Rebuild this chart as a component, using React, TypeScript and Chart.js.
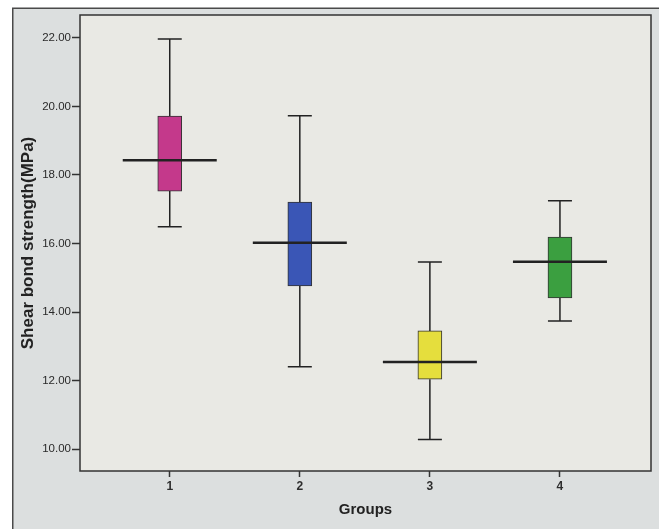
import React, { useEffect, useRef } from "react";
import { Chart, registerables } from "chart.js";

Chart.register(...registerables);

// ---- data ----
const groupLabels = ["1", "2", "3", "4"];
const groupPositions = [1, 2, 3, 4];
const whiskerHigh = [21.97, 19.73, 15.46, 17.25];
const q3 = [19.72, 17.21, 13.45, 16.19];
const median = [18.43, 16.02, 12.54, 15.47];
const q1 = [17.53, 14.76, 12.04, 14.41];
const whiskerLow = [16.49, 12.4, 10.28, 13.74];
const yTickValues = [10, 12, 14, 16, 18, 20, 22];
const boxColors = ["#c4398b", "#3a56b6", "#e5de3d", "#3b9f40"];

const FONT = "'Liberation Sans', Arial, sans-serif";
const INK = "#2e2e2e";

const framePlugin = {
  id: "frame",
  beforeDraw(chart: any) {
    const { ctx, width, height, chartArea } = chart;
    ctx.save();
    ctx.fillStyle = "#ffffff";
    ctx.fillRect(0, 0, width, height);
    ctx.fillStyle = "#dcdfdf";
    ctx.fillRect(13, 8, width - 13, height - 8);
    ctx.strokeStyle = "#4a4a4a";
    ctx.lineWidth = 1.5;
    ctx.beginPath();
    ctx.moveTo(12.75, height);
    ctx.lineTo(12.75, 8.25);
    ctx.lineTo(width, 8.25);
    ctx.stroke();
    ctx.fillStyle = "#e9e9e4";
    ctx.fillRect(chartArea.left, chartArea.top, chartArea.right - chartArea.left, chartArea.bottom - chartArea.top);
    ctx.restore();
  },
  afterDatasetsDraw(chart: any) {
    const { ctx } = chart;
    const xs = chart.scales.x;
    const ys = chart.scales.y;
    const meta = chart.getDatasetMeta(0);
    ctx.save();
    ctx.strokeStyle = "#222";
    groupPositions.forEach((g, i) => {
      const cx = xs.getPixelForValue(g);
      const bw = meta.data[i] ? meta.data[i].width : 24;
      const yHi = ys.getPixelForValue(whiskerHigh[i]);
      const yQ3 = ys.getPixelForValue(q3[i]);
      const yQ1 = ys.getPixelForValue(q1[i]);
      const yLo = ys.getPixelForValue(whiskerLow[i]);
      const yMed = ys.getPixelForValue(median[i]);
      ctx.lineWidth = 1.5;
      ctx.beginPath();
      ctx.moveTo(cx, yQ3);
      ctx.lineTo(cx, yHi);
      ctx.moveTo(cx - bw / 2, yHi);
      ctx.lineTo(cx + bw / 2, yHi);
      ctx.moveTo(cx, yQ1);
      ctx.lineTo(cx, yLo);
      ctx.moveTo(cx - bw / 2, yLo);
      ctx.lineTo(cx + bw / 2, yLo);
      ctx.stroke();
      ctx.lineWidth = 2.5;
      ctx.beginPath();
      ctx.moveTo(cx - 47, yMed);
      ctx.lineTo(cx + 47, yMed);
      ctx.stroke();
    });
    ctx.restore();
  },
  afterDraw(chart: any) {
    const { ctx, chartArea } = chart;
    ctx.save();
    ctx.strokeStyle = "#333";
    ctx.lineWidth = 1.5;
    ctx.strokeRect(chartArea.left, chartArea.top, chartArea.right - chartArea.left, chartArea.bottom - chartArea.top);
    ctx.restore();
  },
};

export default function App() {
  const ref = useRef<HTMLCanvasElement | null>(null);
  useEffect(() => {
    if (!ref.current) return;
    const chart = new Chart(ref.current, {
      type: "bar",
      data: {
        datasets: [
          {
            data: groupPositions.map((g, i) => ({ x: g, y: [q1[i], q3[i]] })) as any,
            backgroundColor: boxColors,
            borderColor: "#333",
            borderWidth: 1,
            borderSkipped: false,
            barThickness: 24,
          },
        ],
      },
      options: {
        animation: false,
        responsive: false,
        maintainAspectRatio: false,
        layout: { padding: { top: 15, right: 8, left: 0, bottom: 0 } },
        plugins: { legend: { display: false }, tooltip: { enabled: false } },
        scales: {
          x: {
            type: "linear",
            offset: false,
            min: 0.31,
            max: 4.7,
            afterBuildTicks: (s: any) => {
              s.ticks = groupPositions.map((v) => ({ value: v }));
            },
            afterFit: (s: any) => {
              s.height = 58;
            },
            ticks: {
              callback: (v: any) => groupLabels[groupPositions.indexOf(Number(v))] ?? "",
              font: { family: FONT, size: 12, weight: "bold" },
              color: INK,
              padding: 2,
              maxRotation: 0,
            },
            grid: { offset: false, drawOnChartArea: false, drawTicks: true, tickLength: 6, tickColor: "#333", tickWidth: 1.5 },
            border: { display: false },
            title: {
              display: true,
              text: "Groups",
              font: { family: FONT, size: 15, weight: "bold" },
              color: "#222",
              padding: { top: 0, bottom: 10 },
            },
          },
          y: {
            type: "linear",
            min: 9.36,
            max: 22.67,
            afterBuildTicks: (s: any) => {
              s.ticks = yTickValues.map((v) => ({ value: v }));
            },
            afterFit: (s: any) => {
              s.width = 80;
            },
            ticks: {
              callback: (v: any) => Number(v).toFixed(2),
              font: { family: FONT, size: 11.5 },
              color: "#2a2a2a",
              padding: 1,
            },
            grid: { drawOnChartArea: false, drawTicks: true, tickLength: 8, tickColor: "#333", tickWidth: 1.5 },
            border: { display: false },
            title: {
              display: true,
              text: "Shear bond strength(MPa)",
              font: { family: FONT, size: 17, weight: "bold" },
              color: "#222",
              padding: { top: 18, bottom: 0 },
            },
          },
        },
      },
      plugins: [framePlugin],
    });
    return () => chart.destroy();
  }, []);
  return (
    <div style={{ position: "fixed", left: 0, top: 0, width: 659, height: 529 }}>
      <canvas ref={ref} width={659} height={529} style={{ display: "block", width: 659, height: 529 }} />
    </div>
  );
}
